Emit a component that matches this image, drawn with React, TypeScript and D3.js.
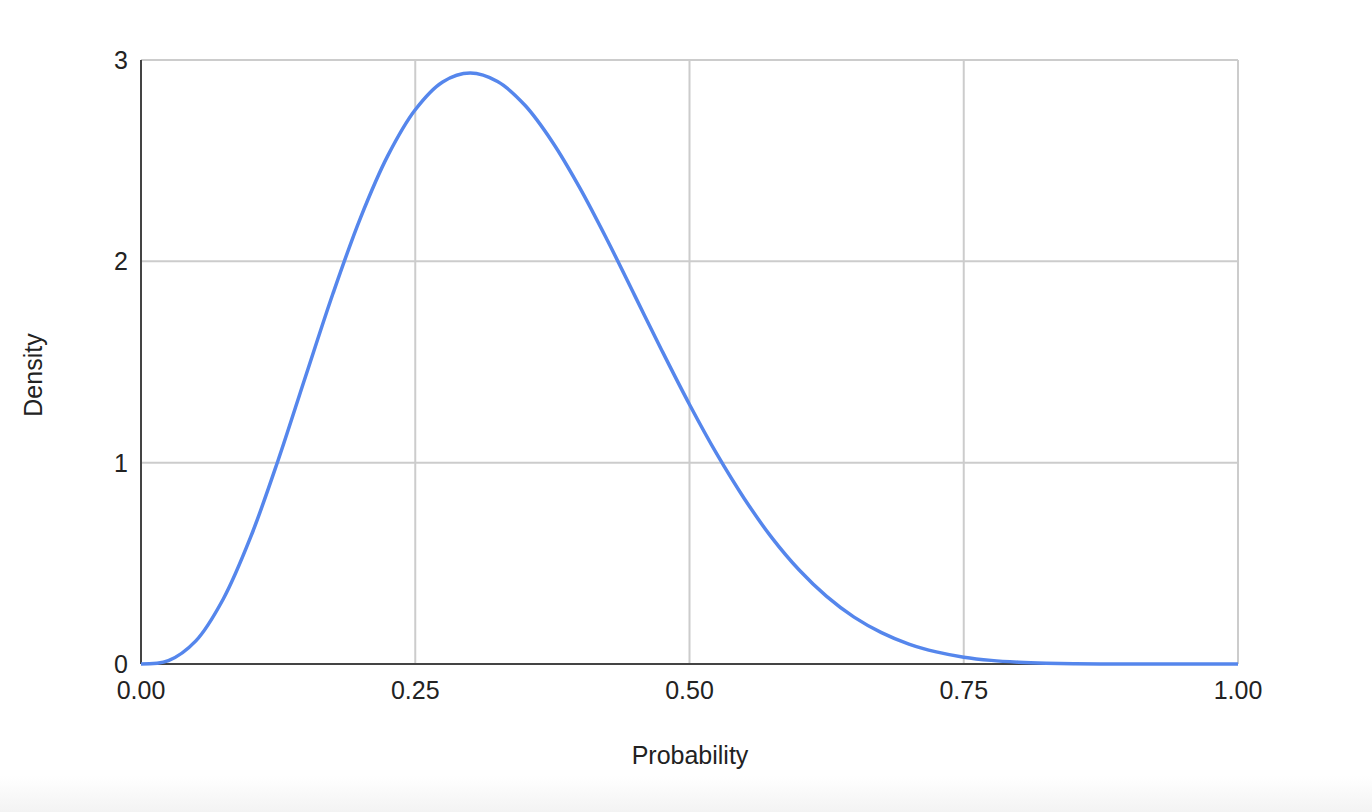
import React from "react";
import * as d3 from "d3";

const xValues = [0, 0.025, 0.05, 0.075, 0.1, 0.125, 0.15, 0.175, 0.2, 0.225, 0.25, 0.275, 0.3, 0.325, 0.35, 0.375, 0.4, 0.425, 0.45, 0.475, 0.5, 0.525, 0.55, 0.575, 0.6, 0.625, 0.65, 0.675, 0.7, 0.725, 0.75, 0.775, 0.8, 0.825, 0.85, 0.875, 0.9, 0.925, 0.95, 0.975, 1.0];
const densityValues = [0, 0.017, 0.115, 0.323, 0.631, 1.012, 1.428, 1.840, 2.215, 2.525, 2.753, 2.891, 2.935, 2.893, 2.775, 2.593, 2.365, 2.106, 1.831, 1.555, 1.289, 1.042, 0.821, 0.628, 0.467, 0.336, 0.233, 0.156, 0.099, 0.060, 0.034, 0.018, 0.009, 0.004, 0.0014, 0.0005, 0.0001, 0, 0, 0, 0];
const xTicks = [0, 0.25, 0.5, 0.75, 1.0];
const yTicks = [0, 1, 2, 3];
const xLabel = "Probability";
const yLabel = "Density";

export default function App() {
  const W = 1372, H = 812;
  const left = 141, right = 1238, top = 60, bottom = 664;
  const x = d3.scaleLinear().domain([0, 1]).range([left, right]);
  const y = d3.scaleLinear().domain([0, 3]).range([bottom, top]);
  const pts = xValues.map((v, i) => [v, densityValues[i]] as [number, number]);
  const line = d3.line<[number, number]>().x(d => x(d[0])).y(d => y(d[1])).curve(d3.curveCatmullRom);
  const font = "Liberation Sans, Arial, sans-serif";
  const fs = 25;
  return (
    <svg width={W} height={H} style={{ position: "absolute", left: 0, top: 0, display: "block" }} fontFamily={font}>
      <defs>
        <linearGradient id="bg" x1="0" y1="0" x2="0" y2="1">
          <stop offset="0" stopColor="#ffffff" />
          <stop offset="1" stopColor="#f3f3f3" />
        </linearGradient>
      </defs>
      <rect x={0} y={0} width={W} height={H} fill="#fff" />
      <rect x={0} y={776} width={W} height={36} fill="url(#bg)" />
      {xTicks.filter(t => t > 0).map(t => (
        <line key={"vx" + t} x1={x(t)} x2={x(t)} y1={top} y2={bottom} stroke="#cccccc" strokeWidth={2} />
      ))}
      {yTicks.filter(t => t > 0).map(t => (
        <line key={"hy" + t} x1={left} x2={right} y1={y(t)} y2={y(t)} stroke="#cccccc" strokeWidth={2} />
      ))}
      <line x1={left} x2={left} y1={top} y2={bottom} stroke="#444" strokeWidth={2} />
      <line x1={left} x2={right} y1={bottom} y2={bottom} stroke="#444" strokeWidth={2} />
      <path d={line(pts) || ""} fill="none" stroke="#5586ec" strokeWidth={3.5} strokeLinejoin="round" />
      {yTicks.map(t => (
        <text key={"yl" + t} x={128} y={y(t)} dy="0.36em" textAnchor="end" fontSize={fs} fill="#222">{t}</text>
      ))}
      {xTicks.map(t => (
        <text key={"xl" + t} x={x(t)} y={690} dy="0.36em" textAnchor="middle" fontSize={fs} fill="#222">{d3.format(".2f")(t)}</text>
      ))}
      <text x={690} y={755} dy="0.36em" textAnchor="middle" fontSize={fs} fill="#222">{xLabel}</text>
      <text transform={`translate(33,375) rotate(-90)`} dy="0.36em" textAnchor="middle" fontSize={fs} fill="#222">{yLabel}</text>
    </svg>
  );
}
